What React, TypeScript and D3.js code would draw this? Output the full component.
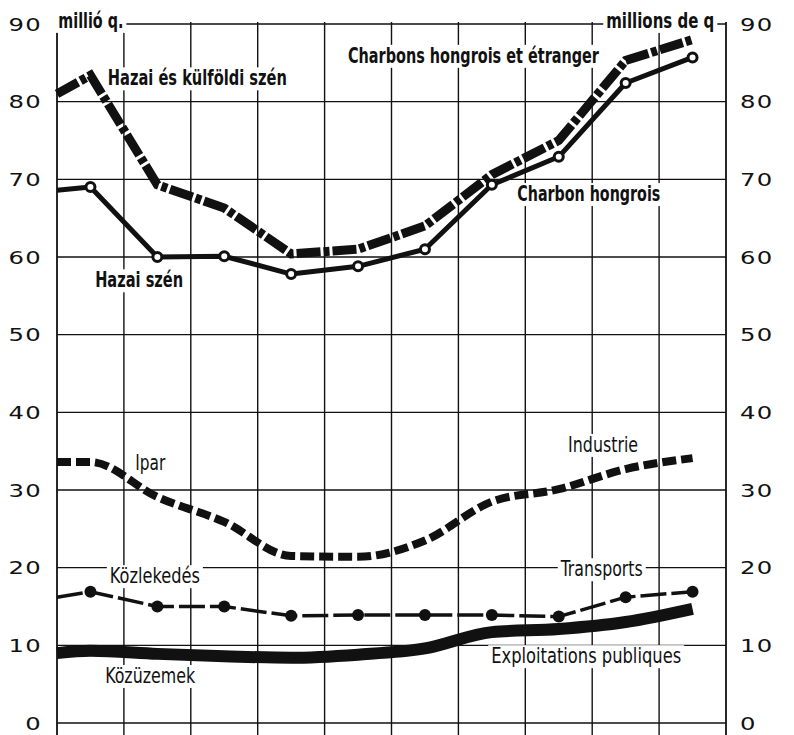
import React from 'react';
import * as d3 from 'd3';

// x positions in grid units (0 = left axis, points at interval midpoints)
const xPos = [0, 0.5, 1.5, 2.5, 3.5, 4.5, 5.5, 6.5, 7.5, 8.5, 9.5];
const hazaiKulfoldi = [81.0, 83.4, 69.3, 66.3, 60.4, 61.0, 64.0, 70.6, 75.0, 85.3, 88.0];
const hazaiSzen = [68.6, 69.0, 60.0, 60.1, 57.8, 58.8, 61.0, 69.3, 72.9, 82.4, 85.7];
const ipar = [33.6, 33.6, 29.1, 25.9, 21.5, 21.4, 23.5, 28.5, 30.1, 32.7, 34.1];
const kozlekedes = [16.2, 16.9, 15.0, 15.0, 13.8, 13.9, 13.9, 13.9, 13.7, 16.2, 16.9];
const kozuzemek = [9.0, 9.3, 8.9, 8.6, 8.4, 8.8, 9.6, 11.7, 12.1, 13.0, 14.7];
const yTicks = [0, 10, 20, 30, 40, 50, 60, 70, 80, 90];
const xGrid = [0, 1, 2, 3, 4, 5, 6, 7, 8, 9, 10];

// annotation labels in data units
const labelText = ['millió q.', 'millions de q', 'Hazai és külföldi szén', 'Charbons hongrois et étranger', 'Charbon hongrois', 'Hazai szén', 'Industrie', 'Ipar', 'Közlekedés', 'Transports', 'Közüzemek', 'Exploitations publiques'];
const labelX = [0.02, 8.21, 0.76, 4.35, 6.88, 0.57, 7.64, 1.17, 0.79, 7.53, 0.72, 6.49];
const labelY = [89.5, 89.5, 82.1, 85.0, 67.2, 56.1, 34.9, 32.6, 18.0, 18.9, 5.15, 7.7];
const labelW = [65, 108, 179, 251, 143, 88, 70, 30, 90, 82, 90, 190];
const labelBold = [true, true, true, true, true, true, false, false, false, false, false, false];

export default function App() {
  const W = 794, H = 735;
  const x = d3.scaleLinear().domain([0, 10]).range([57, 726]);
  const y = d3.scaleLinear().domain([0, 90]).range([723, 24]);

  const straight = d3.line<number>().x((_, i) => x(xPos[i])).y(d => y(d));
  const smooth = d3.line<number>().x((_, i) => x(xPos[i])).y(d => y(d)).curve(d3.curveMonotoneX);

  const numFont = '"DejaVu Sans", sans-serif';
  const lblFont = '"Liberation Sans Narrow", "DejaVu Sans Condensed", "Arial Narrow", sans-serif';

  return (
    <svg width={W} height={H} style={{ position: 'absolute', left: 0, top: 0, background: '#fff' }}>
      <rect x={0} y={0} width={W} height={H} fill="#fff" />
      {/* grid */}
      <g stroke="#111" strokeWidth={1.4}>
        {yTicks.map(t => (
          <line key={'h' + t} x1={x(0)} x2={x(10)} y1={y(t)} y2={y(t)} />
        ))}
        {xGrid.map(g => (
          <line key={'v' + g} x1={x(g)} x2={x(g)} y1={y(90) - 2} y2={H + 5} strokeWidth={g === 0 || g === 10 ? 1.8 : 1.4} />
        ))}
      </g>
      {/* y tick labels */}
      <g fontFamily={numFont} fontSize={18} fill="#111">
        {yTicks.map(t => (
          <text key={'l' + t} transform={`translate(42,${y(t) + 6.5}) scale(1.35,1)`} textAnchor="end" letterSpacing={1}>{t}</text>
        ))}
        {yTicks.map(t => (
          <text key={'r' + t} transform={`translate(740,${y(t) + 6.5}) scale(1.35,1)`} textAnchor="start" letterSpacing={1}>{t}</text>
        ))}
      </g>
      {/* labels */}
      <g fontFamily={lblFont} fontSize={21} fill="#111">
        {labelText.map((t, i) => {
          const lx = x(labelX[i]);
          const ly = y(labelY[i]);
          return (
            <g key={'t' + i}>
              <rect x={lx - 3} y={ly - 18} width={labelW[i] + 6} height={23} fill="#fff" />
              <text x={lx} y={ly} fontWeight={labelBold[i] ? 'bold' : 'normal'} textLength={labelW[i]} lengthAdjust="spacingAndGlyphs">{t}</text>
            </g>
          );
        })}
      </g>
      {/* series */}
      <path d={straight(hazaiKulfoldi) || ''} fill="none" stroke="#111" strokeWidth={9} strokeDasharray="24,3,6,3" strokeLinejoin="miter" />
      <path d={straight(hazaiSzen) || ''} fill="none" stroke="#111" strokeWidth={5} strokeLinejoin="round" />
      {hazaiSzen.slice(1).map((v, i) => (
        <circle key={'hs' + i} cx={x(xPos[i + 1])} cy={y(v)} r={4.5} fill="#fff" stroke="#111" strokeWidth={3} />
      ))}
      <path d={smooth(ipar) || ''} fill="none" stroke="#111" strokeWidth={8} strokeDasharray="14,5" />
      <path d={straight(kozlekedes) || ''} fill="none" stroke="#111" strokeWidth={3.5} strokeDasharray="26,5" />
      {kozlekedes.slice(1).map((v, i) => (
        <circle key={'kz' + i} cx={x(xPos[i + 1])} cy={y(v)} r={6} fill="#111" />
      ))}
      <path d={smooth(kozuzemek) || ''} fill="none" stroke="#111" strokeWidth={12} strokeLinecap="butt" />
    </svg>
  );
}
